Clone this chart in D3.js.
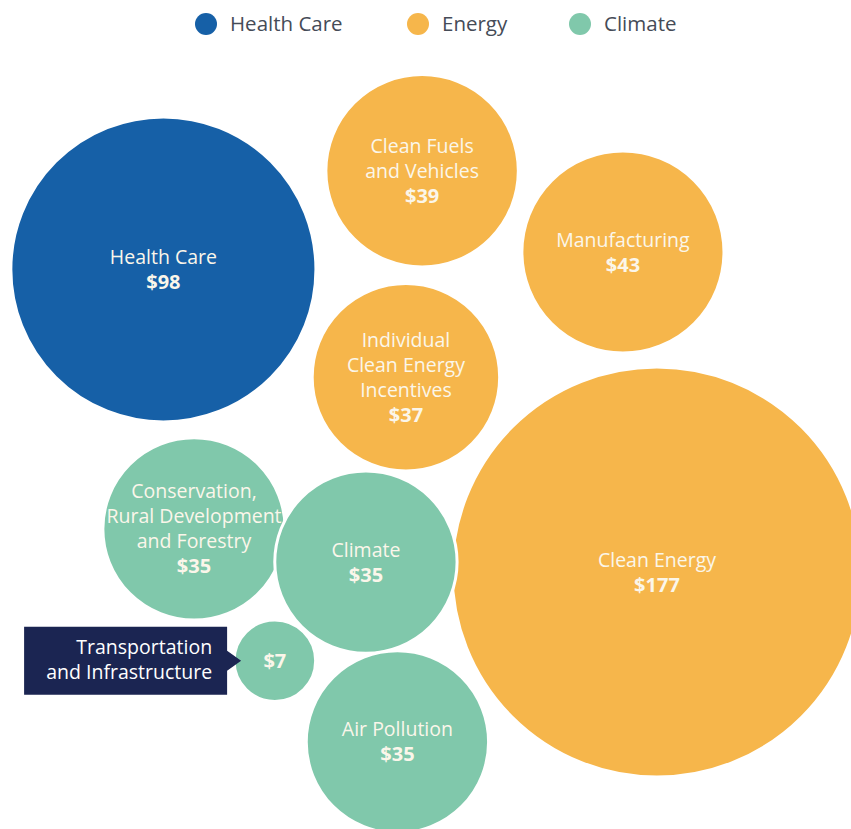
<!DOCTYPE html>
<html>
<head>
<meta charset="utf-8">
<script src="https://cdn.jsdelivr.net/npm/d3@7"></script>
<style>
  body { margin: 0; background: #fff; }
  svg text { font-family: "Open Sans", "Noto Sans", sans-serif; }
</style>
</head>
<body>
<div id="chart"></div>
<script>
// values ($ billions)
var names = ["Health Care", "Clean Fuels and Vehicles", "Manufacturing",
  "Individual Clean Energy Incentives", "Clean Energy",
  "Conservation, Rural Development and Forestry", "Climate",
  "Transportation and Infrastructure", "Air Pollution"];
var labelLines = [["Health Care"], ["Clean Fuels", "and Vehicles"], ["Manufacturing"],
  ["Individual", "Clean Energy", "Incentives"], ["Clean Energy"],
  ["Conservation,", "Rural Development", "and Forestry"], ["Climate"],
  ["Transportation", "and Infrastructure"], ["Air Pollution"]];
var values = [98, 39, 43, 37, 177, 35, 35, 7, 35];
var groups = ["Health Care", "Energy", "Energy", "Energy", "Energy",
  "Climate", "Climate", "Climate", "Climate"];
var legendKeys = ["Health Care", "Energy", "Climate"];

// hand placed layout of the bubble centres (fraction of the canvas)
var layoutX = [0.192, 0.496, 0.732, 0.477, 0.772, 0.228, 0.430, 0.323, 0.467];
var layoutY = [0.325, 0.206, 0.304, 0.455, 0.690, 0.638, 0.678, 0.797, 0.895];

var width = 851, height = 829;

var svg = d3.select("#chart").append("svg")
  .attr("width", width)
  .attr("height", height);

var color = d3.scaleOrdinal()
  .domain(legendKeys)
  .range(["#1660a7", "#f6b64b", "#80c8ab"]);

var x = d3.scaleLinear().domain([0, 1]).range([0, width]);
var y = d3.scaleLinear().domain([0, 1]).range([0, height]);
var r = d3.scaleSqrt().domain([0, d3.max(values)]).range([0, 205]);

var data = names.map(function (n, i) {
  return { name: n, lines: labelLines[i], value: values[i], group: groups[i],
    cx: x(layoutX[i]), cy: y(layoutY[i]), callout: n === "Transportation and Infrastructure" };
});

// legend
var legend = svg.append("g").attr("class", "legend")
  .selectAll("g")
  .data(legendKeys).enter()
  .append("g")
  .attr("transform", function (d, i) { return "translate(" + [206, 418, 580][i] + ",24)"; });

legend.append("circle")
  .attr("r", 11)
  .style("fill", function (d) { return color(d); });

legend.append("text")
  .attr("x", 24)
  .attr("y", 7)
  .style("font-size", "20.5px")
  .style("fill", "#454b57")
  .text(function (d) { return d; });

// bubbles
var bubbles = svg.append("g").attr("class", "bubbles")
  .selectAll("g")
  .data(data).enter()
  .append("g")
  .attr("transform", function (d) { return "translate(" + d.cx + "," + d.cy + ")"; });

bubbles.append("circle")
  .attr("r", function (d) { return r(d.value); })
  .style("fill", function (d) { return color(d.group); })
  .style("stroke", "#fff")
  .style("stroke-width", 3);

var lineH = 25;

bubbles.each(function (d) {
  var g = d3.select(this);
  var lines = d.callout ? [] : d.lines;
  var n = lines.length + 1;
  var top = -(n - 1) * lineH / 2 + 7;
  lines.forEach(function (l, k) {
    g.append("text")
      .attr("text-anchor", "middle")
      .attr("y", top + k * lineH)
      .style("font-size", "19.5px")
      .style("fill", "#fbf6ea")
      .text(l);
  });
  g.append("text")
    .attr("text-anchor", "middle")
    .attr("y", top + lines.length * lineH)
    .style("font-size", "20px")
    .style("font-weight", "bold")
    .style("fill", "#fbf6ea")
    .text("$" + d.value);
});

// callout box for the small bubble
var small = data.filter(function (d) { return d.callout; })[0];
var bx = small.cx - r(small.value) - 7;
var callout = svg.append("g").attr("class", "callout");
callout.append("path")
  .attr("d", "M" + (bx - 203) + "," + (small.cy - 34) +
    "H" + bx + "V" + (small.cy - 10) + "L" + (bx + 14) + "," + small.cy +
    "L" + bx + "," + (small.cy + 10) + "V" + (small.cy + 34) +
    "H" + (bx - 203) + "Z")
  .style("fill", "#1b2552");
small.lines.forEach(function (l, k) {
  callout.append("text")
    .attr("x", bx - 15)
    .attr("y", small.cy - 7 + k * 25)
    .attr("text-anchor", "end")
    .style("font-size", "19.5px")
    .style("fill", "#fff")
    .text(l);
});
</script>
</body>
</html>
